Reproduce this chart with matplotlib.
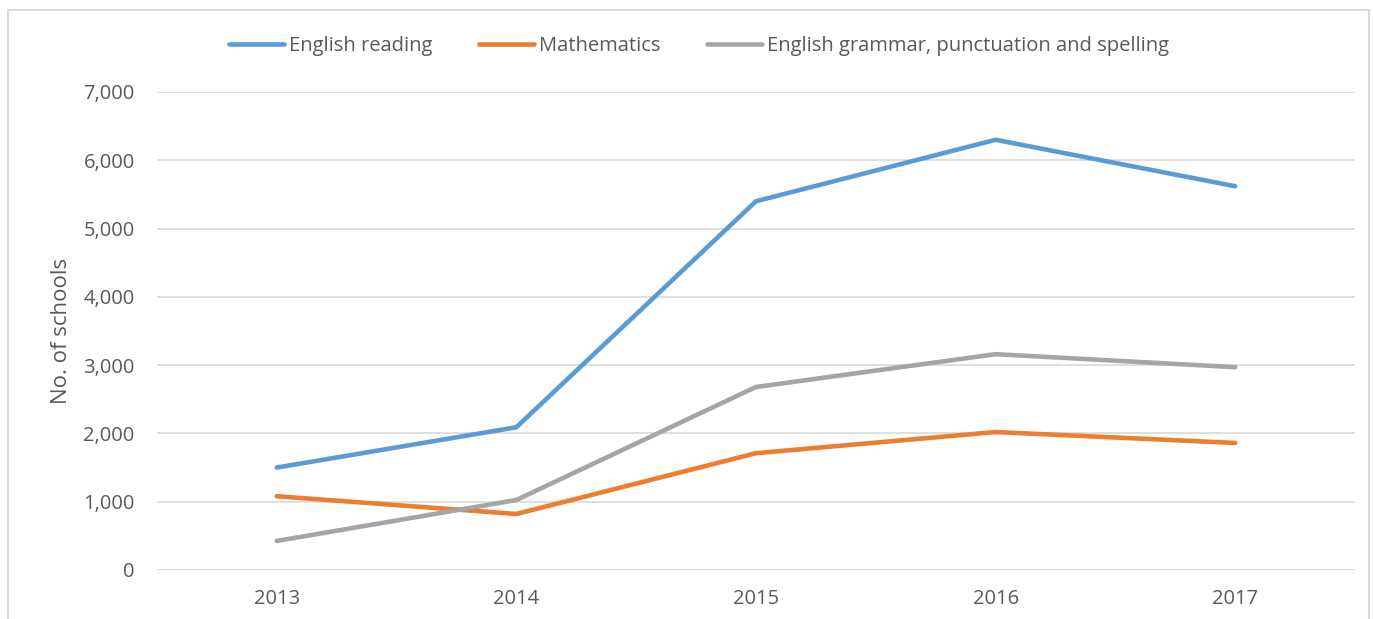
import matplotlib.pyplot as plt
from matplotlib.patches import Rectangle
from matplotlib.ticker import FuncFormatter

plt.rcParams['font.family'] = ['Open Sans', 'DejaVu Sans']

years = ['2013', '2014', '2015', '2016', '2017']
english_reading = [1500, 2090, 5400, 6300, 5620]
mathematics = [1080, 820, 1710, 2020, 1860]
gps = [425, 1025, 2680, 3160, 2970]

series_names = ['English reading', 'Mathematics',
                'English grammar, punctuation and spelling']
colors = ['#5B9BD5', '#ED7D31', '#A5A5A5']
text_col = '#595959'

fig = plt.figure(figsize=(13.73, 6.19), dpi=100)
ax = fig.add_axes([0.1143, 0.0792, 0.8726, 0.7722])

# chart area border
fig.patches.append(Rectangle((8 / 1373, -0.01), 1361 / 1373, 1 - 10 / 619 + 0.01,
                             transform=fig.transFigure, fill=False,
                             edgecolor='#D9D9D9', linewidth=1.5))

x = range(len(years))
for vals, name, c in zip([english_reading, mathematics, gps], series_names, colors):
    ax.plot(x, vals, color=c, linewidth=3.3, label=name,
            solid_capstyle='round', solid_joinstyle='round')

ax.set_xlim(-0.5, len(years) - 0.5)
ax.set_ylim(0, 7000)
ax.set_yticks(range(0, 7001, 1000))
ax.yaxis.set_major_formatter(FuncFormatter(lambda v, p: f'{int(v):,}'))
ax.set_xticks(list(x))
ax.set_xticklabels(years)

ax.grid(axis='y', color='#D9D9D9', linewidth=1.2)
ax.set_axisbelow(True)
for s in ax.spines.values():
    s.set_visible(False)
ax.tick_params(length=0, labelsize=14.5, labelcolor=text_col)
ax.tick_params(axis='y', pad=16)
ax.tick_params(axis='x', pad=14)
ax.set_ylabel('No. of schools', fontsize=16, color=text_col, labelpad=8)

fig.legend(loc='center', bbox_to_anchor=(699 / 1373, 1 - 46 / 619), ncol=3,
           frameon=False, fontsize=14.5, labelcolor=text_col,
           handlelength=2.75, handletextpad=0.25, columnspacing=2.3)

fig.savefig('out.png', dpi=100)
